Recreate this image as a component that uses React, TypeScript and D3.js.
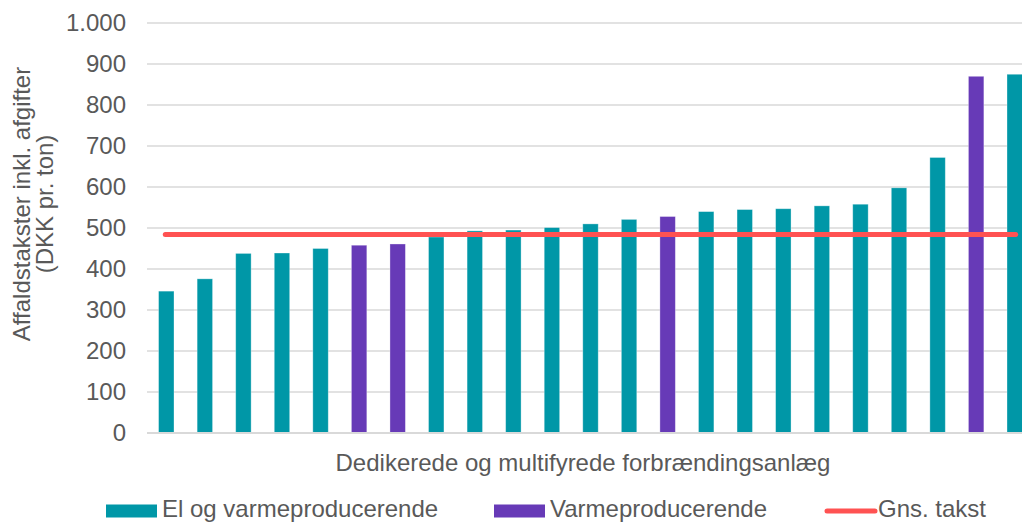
import { useEffect, useRef } from "react";
import * as d3 from "d3";

// bar values (DKK pr. ton), sorted as in the chart
const values = [346, 376, 438, 439, 450, 458, 461, 478, 493, 495, 501, 510, 521, 528, 540, 545, 547, 554, 558, 598, 672, 870, 875];
// type per bar: "el" = El og varmeproducerende, "varme" = Varmeproducerende
const types = ["el", "el", "el", "el", "el", "varme", "varme", "el", "el", "el", "el", "el", "el", "varme", "el", "el", "el", "el", "el", "el", "el", "varme", "el"];
const average = 484;
const yTicks = [0, 100, 200, 300, 400, 500, 600, 700, 800, 900, 1000];
const legendItems = [
  { key: "el", label: "El og varmeproducerende" },
  { key: "varme", label: "Varmeproducerende" },
  { key: "avg", label: "Gns. takst" },
];

const colors: Record<string, string> = { el: "#0097A7", varme: "#673AB7", avg: "#FF5252" };

function App() {
  const svgRef = useRef<SVGSVGElement>(null);

  useEffect(() => {
    const width = 1022;
    const height = 522;
    const left = 147;
    const plotRight = 1034; // plot runs past the right edge of the picture
    const top = 23;
    const bottom = 433;
    const font = "'Liberation Sans', Arial, sans-serif";
    const textColor = "#595959";
    const fontSize = 24;

    const svg = d3.select(svgRef.current);
    svg.selectAll("*").remove();
    svg.attr("width", width).attr("height", height);

    const x = d3
      .scaleBand<number>()
      .domain(values.map((_, i) => i))
      .range([left, plotRight])
      .paddingInner(0.6)
      .paddingOuter(0.3);

    const y = d3.scaleLinear().domain([0, 1000]).range([bottom, top]);

    // gridlines
    svg
      .append("g")
      .selectAll("line")
      .data(yTicks)
      .join("line")
      .attr("x1", left)
      .attr("x2", width)
      .attr("y1", (d) => y(d))
      .attr("y2", (d) => y(d))
      .attr("stroke", "#d9d9d9")
      .attr("stroke-width", 1.5);

    // tick labels (Danish thousands separator)
    const fmt = (d: number) => (d >= 1000 ? d3.format(",")(d).replace(",", ".") : String(d));
    svg
      .append("g")
      .selectAll("text")
      .data(yTicks)
      .join("text")
      .attr("x", 126)
      .attr("y", (d) => y(d))
      .attr("dy", "0.35em")
      .attr("text-anchor", "end")
      .attr("font-family", font)
      .attr("font-size", fontSize)
      .attr("fill", textColor)
      .text(fmt);

    // bars
    svg
      .append("g")
      .selectAll("rect")
      .data(values)
      .join("rect")
      .attr("x", (_, i) => x(i)!)
      .attr("width", x.bandwidth())
      .attr("y", (d) => y(d))
      .attr("height", (d) => bottom - y(d))
      .attr("fill", (_, i) => colors[types[i]])
      .attr("stroke", "#ffffff")
      .attr("stroke-opacity", 0.4)
      .attr("stroke-width", 0.8);

    // axis baseline
    svg
      .append("line")
      .attr("x1", left)
      .attr("x2", width)
      .attr("y1", bottom)
      .attr("y2", bottom)
      .attr("stroke", "#d9d9d9")
      .attr("stroke-width", 2);

    // average line
    const x0 = x(0)! + x.bandwidth() / 2 - 1;
    const x1 = x(values.length - 1)! + x.bandwidth() / 2 + 1;
    svg
      .append("line")
      .attr("x1", x0)
      .attr("x2", x1)
      .attr("y1", y(average))
      .attr("y2", y(average))
      .attr("stroke", colors.avg)
      .attr("stroke-width", 5)
      .attr("stroke-linecap", "round");

    // y-axis title
    const yTitle = svg
      .append("text")
      .attr("transform", `translate(30, 204) rotate(-90)`)
      .attr("text-anchor", "middle")
      .attr("font-family", font)
      .attr("font-size", fontSize)
      .attr("fill", textColor);
    yTitle.append("tspan").attr("x", 0).attr("y", 0).text("Affaldstakster inkl. afgifter");
    yTitle.append("tspan").attr("x", 0).attr("y", 23).text("(DKK pr. ton)");

    // x-axis title
    svg
      .append("text")
      .attr("x", 583)
      .attr("y", 471)
      .attr("text-anchor", "middle")
      .attr("font-family", font)
      .attr("font-size", fontSize)
      .attr("fill", textColor)
      .text("Dedikerede og multifyrede forbrændingsanlæg");

    // legend
    const legendX = [106, 494, 825];
    const legend = svg
      .append("g")
      .selectAll("g")
      .data(legendItems)
      .join("g")
      .attr("transform", (_, i) => `translate(${legendX[i]}, 511)`);
    legend.each(function (d) {
      const g = d3.select(this);
      if (d.key === "avg") {
        g.append("line")
          .attr("x1", 2)
          .attr("x2", 50)
          .attr("y1", 0)
          .attr("y2", 0)
          .attr("stroke", colors.avg)
          .attr("stroke-width", 5)
          .attr("stroke-linecap", "round");
      } else {
        g.append("rect").attr("x", 0).attr("y", -6.5).attr("width", 51).attr("height", 13).attr("fill", colors[d.key]);
      }
      g.append("text")
        .attr("x", d.key === "avg" ? 53 : 56)
        .attr("y", 6)
        .attr("font-family", font)
        .attr("font-size", fontSize)
        .attr("fill", textColor)
        .text(d.label);
    });
  }, []);

  return (
    <div style={{ position: "absolute", left: 0, top: 0 }}>
      <svg ref={svgRef} style={{ display: "block" }}></svg>
    </div>
  );
}

export default App;
